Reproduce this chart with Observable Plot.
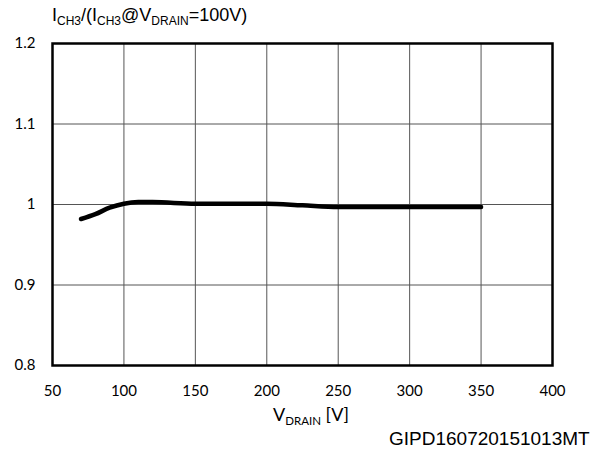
<!DOCTYPE html>
<html><head><meta charset="utf-8">
<script src="https://cdn.jsdelivr.net/npm/d3@7"></script>
<script src="https://cdn.jsdelivr.net/npm/@observablehq/plot@0.6"></script>
<style>
body{margin:0;background:#fff;}
#wrap{position:relative;width:606px;height:451px;overflow:hidden;}
.t{position:absolute;font-family:"Liberation Sans",Arial,sans-serif;color:#000;white-space:nowrap;line-height:1;}
.t sub{vertical-align:-4px;line-height:0;}
</style></head>
<body><div id="wrap">
<div class="t" id="title" style="left:52px;top:6px;font-size:18px;">I<sub style="font-size:12px">CH3</sub>/(I<sub style="font-size:12px">CH3</sub>@V<sub style="font-size:12px">DRAIN</sub>=100V)</div>
<div class="t" id="xlab" style="left:273px;top:405px;font-size:18px;font-family:Lato,sans-serif;">V<sub style="font-size:11.5px">DRAIN</sub> [V]</div>
<div class="t" id="cap" style="left:389px;top:429px;font-size:19px;">GIPD160720151013MT</div>
</div>
<script>
const vdrain = [70, 80, 90, 100, 110, 120, 150, 200, 225, 250, 300, 350];
const ratio = [0.982, 0.988, 0.996, 1.001, 1.003, 1.003, 1.001, 1.001, 0.999, 0.997, 0.997, 0.997];
const xTicks = [50, 100, 150, 200, 250, 300, 350, 400];
const yTicks = [0.8, 0.9, 1, 1.1, 1.2];

const data = vdrain.map((v, i) => ({v, r: ratio[i]}));

const chart = Plot.plot({
  width: 606,
  height: 451,
  marginLeft: 52,
  marginRight: 54,
  marginTop: 43,
  marginBottom: 86,
  style: {fontFamily: "Lato, sans-serif", fontSize: "15px", background: "transparent"},
  x: {domain: [50, 400], ticks: xTicks, label: null},
  y: {domain: [0.8, 1.2], ticks: yTicks, label: null},
  marks: [
    Plot.gridX(xTicks, {stroke: "#555", strokeOpacity: 1, strokeWidth: 1}),
    Plot.gridY(yTicks, {stroke: "#555", strokeOpacity: 1, strokeWidth: 1}),
    Plot.axisX(xTicks, {tickSize: 0, tickPadding: 20, tickFormat: d => String(d), fontSize: 15}),
    Plot.axisY(yTicks, {tickSize: 0, tickPadding: 17, tickFormat: d => String(d), fontSize: 15}),
    Plot.line(data, {x: "v", y: "r", stroke: "#000", strokeWidth: 4.5, curve: "monotone-x"}),
    Plot.frame({stroke: "#000", strokeWidth: 2.5})
  ]
});
chart.style.position = "absolute";
chart.style.left = "0px";
chart.style.top = "0px";
document.getElementById("wrap").prepend(chart);
</script>
</body></html>
